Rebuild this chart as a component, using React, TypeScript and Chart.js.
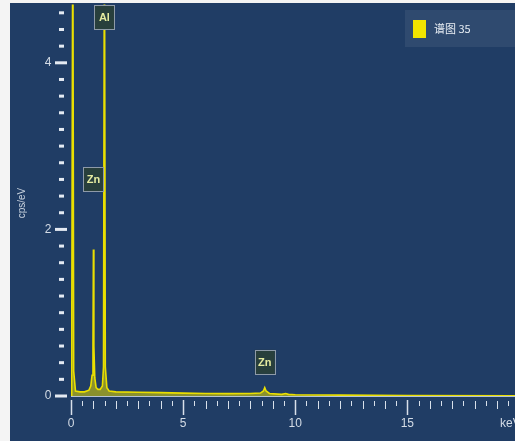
import React, { useEffect, useRef } from "react";
import { Chart, registerables } from "chart.js";

Chart.register(...registerables);

// Spectrum (keV, cps/eV)
const energies = [0, 0.03, 0.08, 0.12, 0.2, 0.4, 0.6, 0.8, 0.88, 0.94, 0.98, 1.0, 1.02, 1.06, 1.12, 1.2, 1.3, 1.4, 1.45, 1.49, 1.53, 1.6, 1.7, 2.0, 3.0, 4.0, 5.0, 6.0, 7.0, 8.0, 8.45, 8.58, 8.64, 8.7, 8.85, 9.4, 9.57, 9.7, 10.0, 12.0, 15.0, 19.8];
const counts = [0, 0.3, 6.0, 0.3, 0.06, 0.05, 0.05, 0.07, 0.12, 0.25, 0.6, 1.76, 0.6, 0.22, 0.1, 0.08, 0.08, 0.12, 0.35, 6.0, 0.35, 0.1, 0.06, 0.05, 0.045, 0.04, 0.035, 0.03, 0.028, 0.03, 0.035, 0.06, 0.1, 0.06, 0.03, 0.02, 0.03, 0.02, 0.015, 0.01, 0.006, 0.003];

// Peak labels
const peakNames = ["Al", "Zn", "Zn"];
const peakEnergies = [1.49, 1.0, 8.64];
const peakLabelY = [4.55, 2.6, 0.41];

// Axis ticks
const xTickValues = [0, 5, 10, 15];
const xTickLabels = ["0", "5", "10", "15"];
const yTickValues = [0, 2, 4];
const yTickLabels = ["0", "2", "4"];

const seriesName = "谱图 35";
const xMax = 19.8;
const yMax = 4.7;

const FONT = "'Liberation Sans', 'DejaVu Sans', sans-serif";
const CJK = "'Noto Sans CJK SC', 'Liberation Sans', sans-serif";

export default function App() {
  const ref = useRef<HTMLCanvasElement | null>(null);

  useEffect(() => {
    const canvas = ref.current;
    if (!canvas) return;

    const bgPlugin = {
      id: "bg",
      beforeDraw(chart: any) {
        const ctx = chart.ctx;
        ctx.save();
        ctx.fillStyle = "#f4f4f4";
        ctx.fillRect(0, 0, chart.width, chart.height);
        ctx.fillStyle = "#203d65";
        ctx.fillRect(10, 3, chart.width - 10, chart.height - 3);
        ctx.restore();
      },
    };

    const axesPlugin = {
      id: "axesDeco",
      beforeDatasetsDraw(chart: any) {
        const ctx = chart.ctx;
        const xs = chart.scales.x;
        const ys = chart.scales.y;
        const y0 = ys.getPixelForValue(0);
        ctx.save();
        // x axis line
        ctx.strokeStyle = "#b8c4d2";
        ctx.lineWidth = 1;
        ctx.beginPath();
        ctx.moveTo(xs.getPixelForValue(0), y0 + 0.5);
        ctx.lineTo(chart.width, y0 + 0.5);
        ctx.stroke();
        // x ticks
        ctx.strokeStyle = "#d8e0ea";
        for (let v = 0; v <= xMax + 0.001; v += 0.5) {
          const px = Math.round(xs.getPixelForValue(v)) + 0.5;
          const major = Math.abs(v - Math.round(v / 5) * 5) < 0.01;
          const whole = Math.abs(v - Math.round(v)) < 0.01;
          ctx.lineWidth = major ? 1.5 : 1;
          ctx.beginPath();
          ctx.moveTo(px, y0 + (major ? 4 : 5));
          ctx.lineTo(px, y0 + (major ? 19 : whole ? 13 : 10));
          ctx.stroke();
        }
        ctx.fillStyle = "#d4dce6";
        ctx.font = `12px ${FONT}`;
        ctx.textAlign = "center";
        ctx.textBaseline = "middle";
        xTickValues.forEach((v, i) => {
          ctx.fillText(xTickLabels[i], xs.getPixelForValue(v), y0 + 28);
        });
        ctx.textAlign = "left";
        ctx.fillText("keV", 500, y0 + 28);
        // y ticks
        ctx.fillStyle = "#e4eaf2";
        for (let k = 0; k <= 23; k++) {
          const v = k * 0.2;
          const py = ys.getPixelForValue(v);
          const major = k % 10 === 0;
          if (major) ctx.fillRect(55, py - 1.5, 12, 3);
          else ctx.fillRect(59, py - 1.5, 5, 3);
        }
        ctx.fillStyle = "#d4dce6";
        ctx.font = `12px ${FONT}`;
        ctx.textAlign = "center";
        yTickValues.forEach((v, i) => {
          ctx.fillText(yTickLabels[i], 48, ys.getPixelForValue(v));
        });
        // y title
        ctx.save();
        ctx.translate(22, 203);
        ctx.rotate(-Math.PI / 2);
        ctx.font = `10px ${FONT}`;
        ctx.fillStyle = "#c8d2de";
        ctx.fillText("cps/eV", 0, 0);
        ctx.restore();
        ctx.restore();
      },
      afterDatasetsDraw(chart: any) {
        const ctx = chart.ctx;
        const xs = chart.scales.x;
        const ys = chart.scales.y;
        ctx.save();
        // peak labels
        peakNames.forEach((name, i) => {
          const cx = xs.getPixelForValue(peakEnergies[i]);
          const cy = ys.getPixelForValue(peakLabelY[i]);
          const w = 20, h = 24;
          ctx.fillStyle = "#283f3c";
          ctx.fillRect(cx - w / 2, cy - h / 2, w, h);
          ctx.strokeStyle = "#8e9aa8";
          ctx.lineWidth = 1;
          ctx.strokeRect(Math.round(cx - w / 2) + 0.5, Math.round(cy - h / 2) + 0.5, w, h);
          ctx.fillStyle = "#e6eca0";
          ctx.font = `bold 11px ${FONT}`;
          ctx.textAlign = "center";
          ctx.textBaseline = "middle";
          ctx.fillText(name, cx, cy + 1);
        });
        // legend
        ctx.fillStyle = "rgba(255,255,255,0.07)";
        ctx.fillRect(405, 10, 110, 37);
        ctx.fillStyle = "#f2e400";
        ctx.fillRect(413, 20, 13, 18);
        ctx.fillStyle = "#e8eef4";
        ctx.font = `11px ${CJK}`;
        ctx.textAlign = "left";
        ctx.textBaseline = "middle";
        ctx.fillText(seriesName, 434, 29);
        ctx.restore();
      },
    };

    const chart = new Chart(canvas, {
      type: "line",
      data: {
        datasets: [
          {
            label: seriesName,
            data: energies.map((e, i) => ({ x: e, y: counts[i] })),
            borderColor: "#eadf00",
            backgroundColor: "rgba(225,215,0,0.55)",
            borderWidth: 1.6,
            fill: "origin",
            pointRadius: 0,
            tension: 0,
          },
        ],
      },
      options: {
        responsive: false,
        animation: false,
        layout: { padding: { left: 71, right: 0, top: 4.5, bottom: 45 } },
        plugins: { legend: { display: false }, tooltip: { enabled: false } },
        scales: {
          x: { type: "linear", min: 0, max: xMax, display: false },
          y: { type: "linear", min: 0, max: yMax, display: false },
        },
      },
      plugins: [bgPlugin, axesPlugin],
    });
    return () => chart.destroy();
  }, []);

  return (
    <div style={{ position: "fixed", left: 0, top: 0, width: 515, height: 441 }}>
      <canvas ref={ref} width={515} height={441} />
    </div>
  );
}
